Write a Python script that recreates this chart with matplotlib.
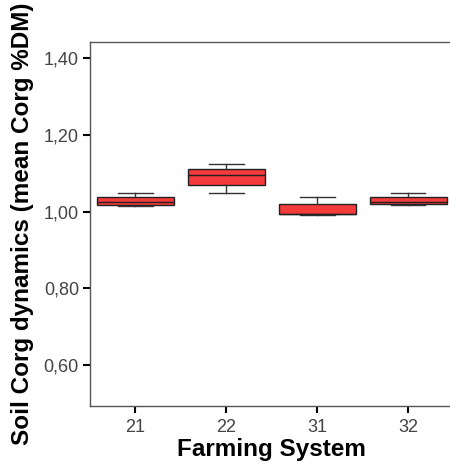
import matplotlib
matplotlib.use("Agg")
import matplotlib.pyplot as plt

# Farming systems and box statistics
systems = ["21", "22", "31", "32"]
whis_lo = [1.014, 1.049, 0.990, 1.016]
q1 = [1.016, 1.069, 0.993, 1.020]
med = [1.025, 1.096, 0.994, 1.026]
q3 = [1.039, 1.112, 1.020, 1.039]
whis_hi = [1.049, 1.125, 1.039, 1.049]

y_ticks = [0.60, 0.80, 1.00, 1.20, 1.40]
y_labels = ["0,60", "0,80", "1,00", "1,20", "1,40"]

plt.rcParams['font.family'] = ['Liberation Sans', 'DejaVu Sans']

fig = plt.figure(figsize=(4.5, 4.73), dpi=100)
ax = fig.add_axes([0.2, 0.1416, 0.808, 0.7695])

stats = []
for i, name in enumerate(systems):
    stats.append({"label": name, "whislo": whis_lo[i], "q1": q1[i], "med": med[i],
                  "q3": q3[i], "whishi": whis_hi[i], "fliers": []})

ax.bxp(stats, positions=range(len(systems)), widths=0.85, patch_artist=True,
       showfliers=False,
       boxprops=dict(facecolor="#f43a3a", edgecolor="#222222", linewidth=1.0),
       medianprops=dict(color="#222222", linewidth=1.0),
       whiskerprops=dict(color="#333333", linewidth=1.0),
       capprops=dict(color="#333333", linewidth=1.0),
       capwidths=0.38)

ax.set_xlim(-0.5, 3.5)
ax.set_ylim(0.4935, 1.4416)
ax.set_yticks(y_ticks)
ax.set_yticklabels(y_labels)
ax.set_xticks(range(len(systems)))
ax.set_xticklabels(systems)

for side in ["left", "top", "bottom", "right"]:
    ax.spines[side].set_color("#555555")
    ax.spines[side].set_linewidth(1.0)

ax.tick_params(axis="both", direction="out", length=5, width=1.5, color="black",
               labelsize=13, labelcolor="#444444")
ax.tick_params(axis="x", pad=4.5)
ax.tick_params(axis="y", pad=3)

ax.set_xlabel("Farming System", fontsize=17.5, fontweight="bold", labelpad=1)
ax.set_ylabel("Soil Corg dynamics (mean Corg %DM)", fontsize=17.5,
              fontweight="bold", labelpad=7)

fig.savefig("out.png", dpi=100)
